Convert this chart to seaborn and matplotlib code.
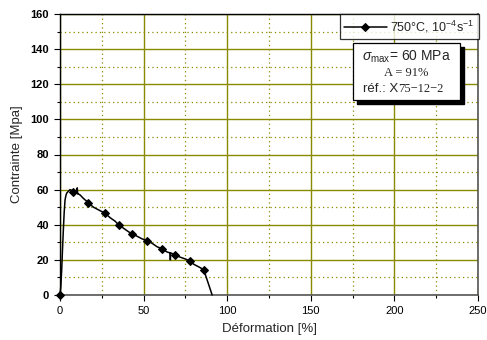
import matplotlib
matplotlib.use("Agg")
import matplotlib.pyplot as plt
from matplotlib.patches import Rectangle
from matplotlib.ticker import MultipleLocator
import seaborn as sns
import pandas as pd

# ---- data ----
strain = [0, 0.5, 1, 1.5, 2, 2.5, 3, 3.5, 4, 5, 6, 7, 8, 9, 10, 10.3, 10.6, 11, 12, 14,
          17, 20, 23, 27, 30, 33, 35, 38, 41, 43, 46, 49, 52, 55, 58, 61, 64, 65.8,
          66, 66.2, 69, 72, 75, 78, 80, 82, 84, 86, 91]
stress = [0, 5, 14, 26, 37, 47, 54, 56.5, 58, 59, 60, 59.5, 58.5, 58, 58.5, 61, 57.5, 57.5, 57, 55,
          52.5, 50, 48.5, 46.5, 44, 42, 40, 38, 36, 34.8, 33.5, 32, 31, 29.5, 27.5, 26.3, 24.5, 24,
          20, 24, 22.7, 21.5, 20.5, 19.2, 17.5, 16.5, 15.5, 14.3, 0]
marker_strain = [0, 8, 17, 27, 35, 43, 52, 61, 69, 78, 86]
series_label = r"750°C, 10$^{\mathregular{-4}}$s$^{\mathregular{-1}}$"
x_ticks = [0, 50, 100, 150, 200, 250]
y_ticks = [0, 20, 40, 60, 80, 100, 120, 140, 160]

sns.set_style("white")
plt.rcParams["font.family"] = ["Liberation Sans", "DejaVu Sans"]
plt.rcParams["mathtext.fontset"] = "custom"
plt.rcParams["mathtext.rm"] = "Liberation Sans"
plt.rcParams["mathtext.it"] = "Liberation Sans:italic"

fig = plt.figure(figsize=(4.87, 3.40), dpi=100)
ax = fig.add_axes([60/487, 1-295/340, 418/487, 281/340])

olive = "#8a8a00"
ax.set_xlim(0, 250)
ax.set_ylim(0, 160)
ax.xaxis.set_major_locator(MultipleLocator(50))
ax.xaxis.set_minor_locator(MultipleLocator(25))
ax.yaxis.set_major_locator(MultipleLocator(20))
ax.yaxis.set_minor_locator(MultipleLocator(10))
ax.grid(True, which="major", color=olive, lw=1.0, ls="-", zorder=0)
ax.grid(True, which="minor", color=olive, lw=0.9, ls=(0, (1, 2.5)), zorder=0)
ax.set_axisbelow(True)

df = pd.DataFrame({"strain": strain, "stress": stress})
mk = [strain.index(v) for v in marker_strain]
sns.lineplot(data=df, x="strain", y="stress", ax=ax, color="black", lw=1.1,
             marker="D", markersize=4.5, markevery=mk, markeredgecolor="black",
             markerfacecolor="black", sort=False, estimator=None, label=series_label,
             zorder=3, clip_on=False)

ax.set_xticks(x_ticks)
ax.set_yticks(y_ticks)
ax.tick_params(axis="both", which="major", direction="out", length=4.5, width=0.8,
               colors="black", labelsize=8, bottom=True, left=True)
ax.tick_params(axis="both", which="minor", direction="out", length=2.5, width=0.8,
               colors="black", bottom=True, left=True)
for t in ax.get_yticklabels():
    t.set_fontweight("bold")
ax.set_xlabel("Déformation [%]", fontsize=9.5, labelpad=5)
ax.set_ylabel("Contrainte [Mpa]", fontsize=9.5, labelpad=5)

for s in ["left", "top"]:
    ax.spines[s].set_color("black")
    ax.spines[s].set_linewidth(1.0)
for s in ["bottom", "right"]:
    ax.spines[s].set_color("#555555")
    ax.spines[s].set_linewidth(1.2)

leg = ax.legend(loc="upper right", bbox_to_anchor=(1.002, 1.0), fontsize=9,
                frameon=True, fancybox=False, handlelength=3.4, borderpad=0.35,
                handletextpad=0.3, borderaxespad=0)
leg.get_frame().set_edgecolor("black")
leg.get_frame().set_linewidth(0.9)

# annotation box with shadow
bx0, bx1 = (353-60)/418, (460-60)/418
by0, by1 = 1-(100-14)/281, 1-(43-14)/281
dx, dy = 4/418, 4/281
ax.add_patch(Rectangle((bx0+dx, by0-dy), bx1-bx0, by1-by0, transform=ax.transAxes,
                       facecolor="black", edgecolor="black", zorder=5))
ax.add_patch(Rectangle((bx0, by0), bx1-bx0, by1-by0, transform=ax.transAxes,
                       facecolor="white", edgecolor="black", lw=0.9, zorder=6))
cx = (bx0+bx1)/2
ax.text(cx, 1-(57-14)/281, r"$\sigma_{\rm max}$= 60 MPa", transform=ax.transAxes,
        ha="center", va="center", fontsize=10, zorder=7)
ax.text(cx, 1-(73-14)/281, "A = 91%", transform=ax.transAxes, ha="center",
        va="center", fontsize=9, family="Liberation Serif", zorder=7)
ax.text(cx - 0.02, 1-(89-14)/281, "réf.: X", transform=ax.transAxes, ha="right",
        va="center", fontsize=9.5, zorder=7)
ax.text(cx - 0.02, 1-(89-14)/281, "75−12−2", transform=ax.transAxes, ha="left",
        va="center", fontsize=9, family="Liberation Serif", zorder=7)

fig.savefig("out.png", dpi=100)
